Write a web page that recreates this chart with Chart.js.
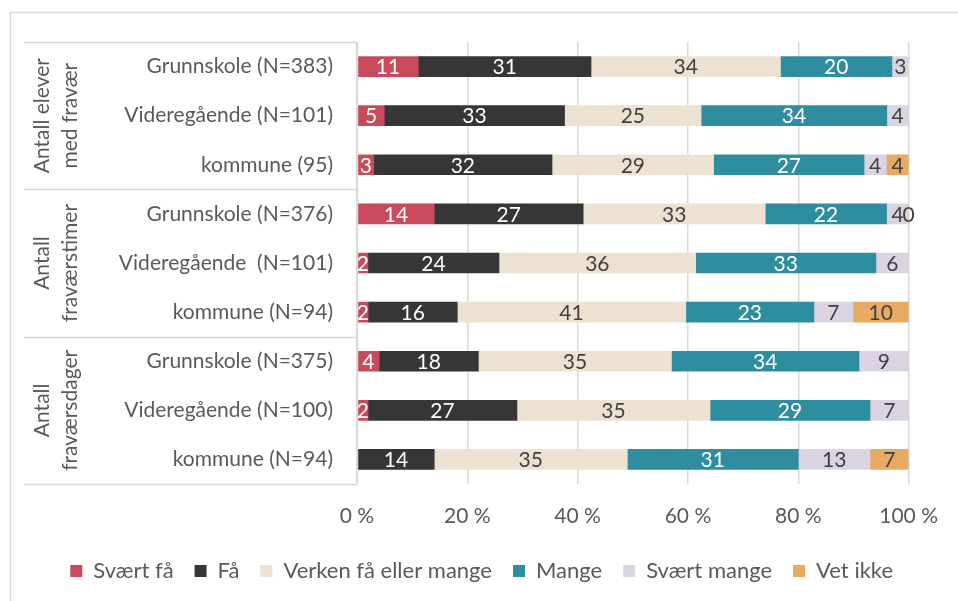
<!DOCTYPE html>
<html>
<head>
<meta charset="utf-8">
<script src="https://cdn.jsdelivr.net/npm/chart.js@4/dist/chart.umd.min.js"></script>
<style>
  html, body { margin: 0; padding: 0; background: #fff; }
  #wrap { position: absolute; left: 0; top: 0; width: 958px; height: 601px; }
</style>
</head>
<body>
<div id="wrap"><canvas id="fravaer"></canvas></div>
<script>
// Kategorier (rader) og grupper
const rader = [
  'Grunnskole (N=383)', 'Videregående (N=101)', 'kommune (95)',
  'Grunnskole (N=376)', 'Videregående  (N=101)', 'kommune (N=94)',
  'Grunnskole (N=375)', 'Videregående (N=100)', 'kommune (N=94)'
];
const grupper = [
  ['Antall elever', 'med fravær'],
  ['Antall', 'fraværstimer'],
  ['Antall', 'fraværsdager']
];

// Verdier (prosent) per svaralternativ
const svaertFaa     = [11, 5, 3, 14, 2, 2, 4, 2, null];
const faa           = [31, 33, 32, 27, 24, 16, 18, 27, 14];
const verken        = [34, 25, 29, 33, 36, 41, 35, 35, 35];
const mange         = [20, 34, 27, 22, 33, 23, 34, 29, 31];
const svaertMange   = [3, 4, 4, 4, 6, 7, 9, 7, 13];
const vetIkke       = [null, null, 4, 0, null, 10, null, null, 7];

const xTicks = [0, 20, 40, 60, 80, 100];

const serier = [
  { navn: 'Svært få', verdier: svaertFaa, farge: '#c94a5b', tekst: '#ffffff' },
  { navn: 'Få', verdier: faa, farge: '#363636', tekst: '#ffffff' },
  { navn: 'Verken få eller mange', verdier: verken, farge: '#ede2d2', tekst: '#404040' },
  { navn: 'Mange', verdier: mange, farge: '#2e8d9f', tekst: '#ffffff' },
  { navn: 'Svært mange', verdier: svaertMange, farge: '#dad3e1', tekst: '#404040' },
  { navn: 'Vet ikke', verdier: vetIkke, farge: '#e8aa62', tekst: '#404040' }
];

// 100 % stablet: normaliser hver rad mot radsummen
const radSum = rader.map((_, i) => serier.reduce((s, se) => s + (se.verdier[i] || 0), 0));

const FONT = 'Lato, "Open Sans", sans-serif';
const FSTR = 21;
const GRID = '#d9d9d9';
const TEKST = '#595959';

const datasets = serier.map(se => ({
  label: se.navn,
  data: se.verdier.map((v, i) => v === null ? null : v / radSum[i] * 100),
  raw: se.verdier,
  tekstFarge: se.tekst,
  backgroundColor: se.farge,
  borderWidth: 0,
  barThickness: 20
}));

// Verdietiketter midt i hvert segment
const etiketter = {
  id: 'etiketter',
  afterDatasetsDraw(chart) {
    const ctx = chart.ctx;
    ctx.save();
    ctx.font = FSTR + 'px ' + FONT;
    ctx.textAlign = 'center';
    ctx.textBaseline = 'middle';
    chart.data.datasets.forEach((ds, di) => {
      const meta = chart.getDatasetMeta(di);
      meta.data.forEach((bar, i) => {
        const v = ds.raw[i];
        if (v === null || v === undefined) return;
        ctx.fillStyle = ds.tekstFarge;
        ctx.fillText(String(v), (bar.x + bar.base) / 2, bar.y + 1);
      });
    });
    ctx.restore();
  }
};

// Ramme, gruppelinjer og gruppetekster
const gruppeAkse = {
  id: 'gruppeAkse',
  beforeDraw(chart) {
    const ctx = chart.ctx;
    ctx.save();
    ctx.strokeStyle = GRID;
    ctx.lineWidth = 1.5;
    ctx.strokeRect(10.5, 12.5, 970, 600);
    ctx.restore();
  },
  afterDraw(chart) {
    const ctx = chart.ctx;
    const area = chart.chartArea;
    const steg = (area.bottom - area.top) / rader.length;
    ctx.save();
    ctx.strokeStyle = GRID;
    ctx.lineWidth = 1.5;
    for (let g = 0; g <= grupper.length; g++) {
      const yy = Math.round(area.top + g * 3 * steg) + 0.5;
      ctx.beginPath();
      ctx.moveTo(24, yy);
      ctx.lineTo(area.left, yy);
      ctx.stroke();
    }
    ctx.beginPath();
    ctx.moveTo(area.left + 0.5, area.top);
    ctx.lineTo(area.left + 0.5, area.bottom);
    ctx.stroke();

    ctx.fillStyle = TEKST;
    ctx.font = FSTR + 'px ' + FONT;
    ctx.textAlign = 'center';
    ctx.textBaseline = 'middle';
    grupper.forEach((linjer, g) => {
      const cy = area.top + (g * 3 + 1.5) * steg;
      ctx.save();
      ctx.translate(56, cy);
      ctx.rotate(-Math.PI / 2);
      ctx.fillText(linjer[0], 0, -14);
      ctx.fillText(linjer[1], 0, 14);
      ctx.restore();
    });
    ctx.restore();
  }
};

new Chart(document.getElementById('fravaer'), {
  type: 'bar',
  data: { labels: rader, datasets: datasets },
  options: {
    indexAxis: 'y',
    responsive: true,
    maintainAspectRatio: false,
    animation: false,
    layout: { padding: { left: 0, top: 42, right: 44, bottom: 9 } },
    scales: {
      x: {
        stacked: true,
        min: 0,
        max: 100,
        afterBuildTicks(scale) { scale.ticks = xTicks.map(v => ({ value: v })); },
        afterFit(scale) { scale.height = 55; },
        grid: { color: GRID, lineWidth: 1.5, drawTicks: false },
        border: { display: false },
        ticks: {
          color: TEKST,
          font: { family: FONT, size: FSTR },
          padding: 20,
          callback: v => v + ' %'
        }
      },
      y: {
        stacked: true,
        afterFit(scale) { scale.width = 357; },
        grid: { display: false, drawTicks: false },
        border: { display: false },
        ticks: {
          color: TEKST,
          font: { family: FONT, size: FSTR },
          padding: 24
        }
      }
    },
    plugins: {
      legend: {
        position: 'bottom',
        align: 'end',
        labels: {
          color: TEKST,
          font: { family: FONT, size: 22 },
          boxWidth: 12,
          boxHeight: 12,
          padding: 21
        }
      },
      tooltip: { enabled: false }
    }
  },
  plugins: [etiketter, gruppeAkse]
});
</script>
</body>
</html>
